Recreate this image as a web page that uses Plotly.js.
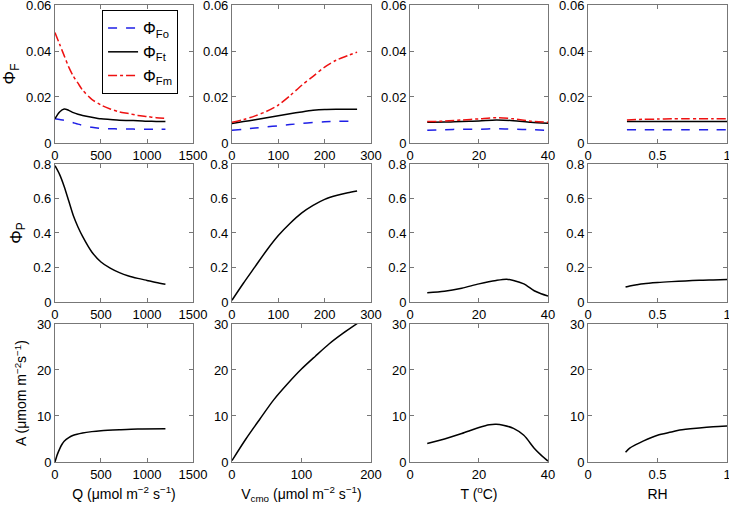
<!DOCTYPE html>
<html>
<head>
<meta charset="utf-8">
<script src="https://cdn.plot.ly/plotly-3.0.1.min.js"></script>
<style>html,body{margin:0;padding:0;background:#fff;}#chart{width:729px;height:506px;}</style>
</head>
<body>
<div id="chart"></div>
<script>
// ---- Row 1: Phi_F ----
const Q1 = [0, 50, 100, 150, 200, 250, 300, 400, 500, 600, 700, 800, 900, 1000, 1100, 1200];
const FmQ = [0.048, 0.043, 0.038, 0.033, 0.029, 0.026, 0.023, 0.019, 0.0165, 0.0148, 0.0135, 0.0128, 0.012, 0.0115, 0.011, 0.0107];
const FtQ = [0.0105, 0.0135, 0.0148, 0.0142, 0.0132, 0.0125, 0.012, 0.0112, 0.0105, 0.0102, 0.0099, 0.0098, 0.0097, 0.0095, 0.0094, 0.0093];
const FoQ = [0.0105, 0.0102, 0.0099, 0.0094, 0.0088, 0.0082, 0.0077, 0.0068, 0.0063, 0.0062, 0.0061, 0.0061, 0.006, 0.006, 0.006, 0.006];

const V1 = [0, 25, 50, 75, 100, 125, 150, 175, 200, 225, 250, 270];
const FmV = [0.009, 0.0102, 0.0118, 0.0138, 0.0165, 0.0205, 0.025, 0.029, 0.033, 0.036, 0.038, 0.0395];
const FtV = [0.0085, 0.0093, 0.0101, 0.011, 0.0118, 0.0127, 0.0135, 0.0142, 0.0146, 0.0147, 0.0147, 0.0147];
const FoV = [0.0055, 0.006, 0.0065, 0.007, 0.0075, 0.008, 0.0085, 0.0089, 0.0092, 0.0094, 0.0095, 0.0095];

const T1 = [5, 10, 15, 20, 25, 30, 35, 40];
const FmT = [0.0093, 0.0095, 0.0100, 0.0105, 0.0110, 0.0105, 0.0095, 0.0090];
const FtT = [0.0090, 0.0091, 0.0094, 0.0096, 0.0100, 0.0097, 0.0090, 0.0086];
const FoT = [0.0055, 0.0058, 0.0060, 0.0060, 0.0062, 0.0060, 0.0058, 0.0055];

const RH1 = [0.28, 0.4, 0.5, 0.6, 0.7, 0.8, 0.9, 1.0];
const FmRH = [0.0100, 0.0103, 0.0104, 0.0105, 0.0105, 0.0105, 0.0105, 0.0105];
const FtRH = [0.0093, 0.0093, 0.0093, 0.0093, 0.0093, 0.0093, 0.0093, 0.0093];
const FoRH = [0.0058, 0.0058, 0.0058, 0.0058, 0.0058, 0.0058, 0.0058, 0.0058];

// ---- Row 2: Phi_P ----
const Q2 = [0, 50, 100, 150, 200, 250, 300, 400, 500, 600, 700, 800, 900, 1000, 1100, 1200];
const PQ = [0.79, 0.74, 0.67, 0.585, 0.50, 0.435, 0.38, 0.29, 0.232, 0.196, 0.17, 0.151, 0.137, 0.125, 0.113, 0.103];
const V2 = [0, 25, 50, 75, 100, 125, 150, 175, 200, 225, 250, 270];
const PV = [0.01, 0.11, 0.205, 0.30, 0.385, 0.455, 0.515, 0.56, 0.595, 0.617, 0.633, 0.643];
const T2 = [5, 10, 15, 20, 25, 28, 30, 33, 36, 38, 40];
const PT = [0.053, 0.062, 0.08, 0.105, 0.125, 0.132, 0.125, 0.105, 0.065, 0.048, 0.035];
const RH2 = [0.27, 0.3, 0.35, 0.4, 0.5, 0.6, 0.7, 0.8, 0.9, 1.0];
const PRH = [0.087, 0.093, 0.10, 0.106, 0.113, 0.118, 0.122, 0.126, 0.128, 0.13];

// ---- Row 3: A ----
const Q3 = [0, 25, 50, 75, 100, 150, 200, 300, 400, 500, 700, 900, 1200];
const AQ = [0, 1.6, 2.8, 3.8, 4.5, 5.3, 5.8, 6.3, 6.6, 6.8, 7.0, 7.15, 7.2];
const V3 = [0, 20, 40, 60, 80, 100, 120, 140, 160, 182];
const AV = [0.3, 5.0, 9.3, 13.5, 17.0, 20.2, 23.0, 25.7, 28.0, 30.3];
const T3 = [5, 10, 15, 20, 23, 25, 27, 30, 33, 36, 38, 40];
const AT = [4.0, 5.0, 6.2, 7.5, 8.1, 8.2, 8.0, 7.3, 5.8, 3.0, 1.5, 0.2];
const RH3 = [0.27, 0.3, 0.34, 0.4, 0.5, 0.6, 0.66, 0.8, 0.9, 1.0];
const ART = [2.1, 3.0, 3.7, 4.6, 5.8, 6.5, 6.95, 7.4, 7.65, 7.8];

// tick values
const xtQ = [0, 500, 1000, 1500];
const xtV = [0, 100, 200, 300];
const xtV3 = [0, 100, 200];
const xtT = [0, 20, 40];
const xtRH = [0, 0.5, 1];
const ytF = [0, 0.02, 0.04, 0.06];
const ytP = [0, 0.2, 0.4, 0.6, 0.8];
const ytA = [0, 10, 20, 30];

const FONT = 'Liberation Sans, Arial, sans-serif';
const cols = [[0.0754, 0.2648], [0.3182, 0.5089], [0.5624, 0.7517], [0.8066, 0.9973]];
const rows = [[0.7174, 0.9901], [0.4032, 0.6759], [0.0870, 0.3597]];

const blue = {color: '#1f1fe6', width: 1.5, dash: 'dash', shape: 'spline', smoothing: 0.8};
const black = {color: '#000000', width: 1.5, shape: 'spline', smoothing: 0.8};
const red = {color: '#ee1111', width: 1.5, dash: 'dashdot', shape: 'spline', smoothing: 0.8};

const traces = [];
function add(n, x, y, line, name, showlegend) {
  traces.push({x: x, y: y, type: 'scatter', mode: 'lines', line: line,
    xaxis: 'x' + (n === 1 ? '' : n), yaxis: 'y' + (n === 1 ? '' : n),
    name: name || '', showlegend: !!showlegend, hoverinfo: 'skip'});
}
add(1, Q1, FoQ, blue, 'Φ<sub>Fo</sub>', true);
add(1, Q1, FtQ, black, 'Φ<sub>Ft</sub>', true);
add(1, Q1, FmQ, red, 'Φ<sub>Fm</sub>', true);
add(2, V1, FoV, blue); add(2, V1, FtV, black); add(2, V1, FmV, red);
add(3, T1, FoT, blue); add(3, T1, FtT, black); add(3, T1, FmT, red);
add(4, RH1, FoRH, blue); add(4, RH1, FtRH, black); add(4, RH1, FmRH, red);
add(5, Q2, PQ, black); add(6, V2, PV, black); add(7, T2, PT, black); add(8, RH2, PRH, black);
add(9, Q3, AQ, black); add(10, V3, AV, black); add(11, T3, AT, black); add(12, RH3, ART, black);

const EPS = 1e-6;
const xRanges = [[0,1500],[0,300],[0,40],[0,1+EPS], [0,1500],[0,300],[0,40],[0,1+EPS], [0,1500],[0,200],[0,40],[0,1+EPS]];
const xTicks = [xtQ, xtV, xtT, xtRH, xtQ, xtV, xtT, xtRH, xtQ, xtV3, xtT, xtRH];
const yRanges = [[0,0.06+1e-8],[0,0.8+EPS],[0,30]];
const yTicks = [ytF, ytP, ytA];
const yTitles = ['Φ<sub>F</sub>', 'Φ<sub>P</sub>', 'A (μmom m<sup>−2</sup>s<sup>−1</sup>)'];
const xTitles = ['Q (μmol m<sup>−2</sup> s<sup>−1</sup>)', 'V<sub>cmo</sub> (μmol m<sup>−2</sup> s<sup>−1</sup>)', 'T (<sup>o</sup>C)', 'RH'];
const yTitleSizes = [17, 17, 14];

const layout = {
  width: 729, height: 506,
  margin: {l: 0, r: 0, t: 0, b: 0},
  paper_bgcolor: '#ffffff', plot_bgcolor: '#ffffff',
  font: {family: FONT, size: 13, color: '#000'},
  showlegend: true,
  legend: {x: 0.140, y: 0.980, xanchor: 'left', yanchor: 'top',
    bgcolor: '#ffffff', bordercolor: '#000000', borderwidth: 1,
    font: {family: FONT, size: 16, color: '#000'}, tracegroupgap: 0}
};

for (let i = 0; i < 12; i++) {
  const r = Math.floor(i / 4), c = i % 4, n = i + 1;
  const xk = 'xaxis' + (n === 1 ? '' : n), yk = 'yaxis' + (n === 1 ? '' : n);
  const common = {showgrid: false, zeroline: false, showline: true, linecolor: '#777',
    linewidth: 1, mirror: 'ticks', ticks: 'inside', ticklen: 4, tickcolor: '#777',
    ticklabeloverflow: 'allow',
    tickfont: {family: FONT, size: 13, color: '#000'}, fixedrange: true};
  layout[xk] = Object.assign({}, common, {domain: cols[c], range: xRanges[i],
    tickvals: xTicks[i], anchor: 'y' + (n === 1 ? '' : n)});
  layout[yk] = Object.assign({}, common, {domain: rows[r], range: yRanges[r],
    tickvals: yTicks[r], anchor: 'x' + (n === 1 ? '' : n)});
  if (c === 0) layout[yk].title = {text: yTitles[r], font: {family: FONT, size: yTitleSizes[r], color: '#000'}, standoff: 6};
  if (r === 2) layout[xk].title = {text: xTitles[c], font: {family: FONT, size: 14, color: '#000'}, standoff: 8};
}

Plotly.newPlot('chart', traces, layout, {displayModeBar: false, staticPlot: true});
</script>
</body>
</html>
